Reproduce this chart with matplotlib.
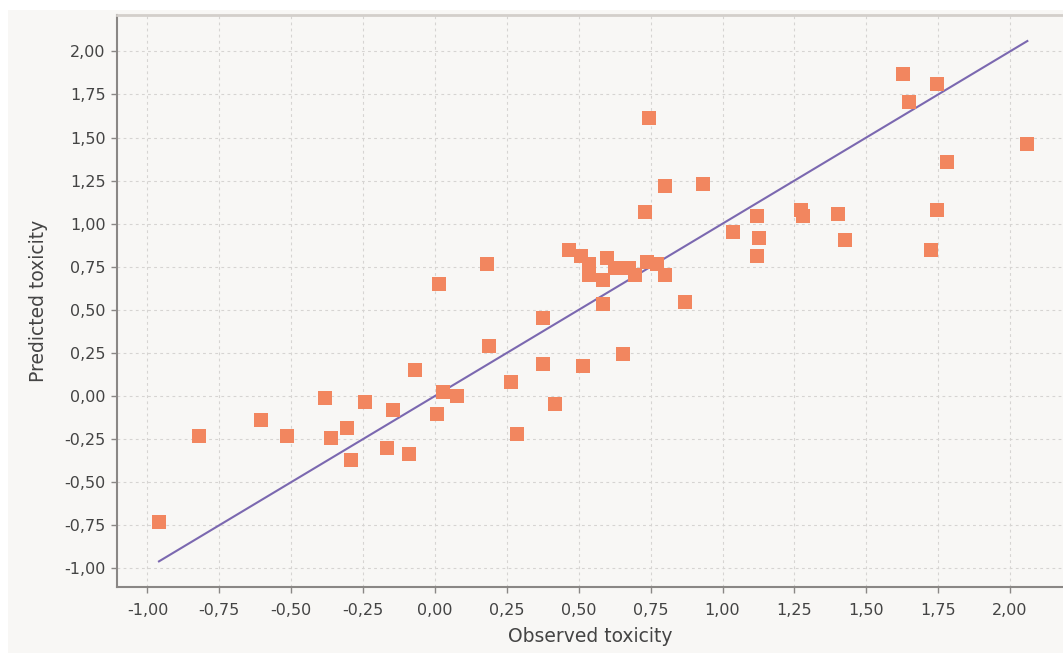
import matplotlib
matplotlib.use("Agg")
import matplotlib.pyplot as plt
from matplotlib.ticker import FuncFormatter, MultipleLocator
from matplotlib.patches import Rectangle

# observed vs predicted toxicity
observed = [
    -0.96, -0.82, -0.605, -0.515, -0.383, -0.362, -0.306, -0.292, -0.243,
    -0.167, -0.146, -0.09, -0.07, 0.007, 0.014, 0.028, 0.077, 0.18, 0.188,
    0.264, 0.285, 0.376, 0.376, 0.417, 0.466, 0.515, 0.508, 0.536, 0.536,
    0.584, 0.584, 0.598, 0.626, 0.654, 0.675, 0.696, 0.737, 0.73, 0.744,
    0.772, 0.80, 0.80, 0.87, 0.932, 1.037, 1.12, 1.12, 1.127, 1.273, 1.28,
    1.40, 1.426, 1.628, 1.649, 1.725, 1.746, 1.746, 1.78, 2.06,
]
predicted = [
    -0.73, -0.23, -0.14, -0.23, -0.01, -0.244, -0.186, -0.371, -0.035,
    -0.30, -0.081, -0.337, 0.151, -0.104, 0.65, 0.023, 0.0, 0.766, 0.29,
    0.081, -0.22, 0.186, 0.453, -0.046, 0.847, 0.174, 0.81, 0.766, 0.70,
    0.534, 0.673, 0.80, 0.743, 0.244, 0.743, 0.70, 0.778, 1.068, 1.613,
    0.766, 0.70, 1.219, 0.546, 1.23, 0.952, 1.045, 0.81, 0.917, 1.08, 1.045,
    1.056, 0.905, 1.869, 1.706, 0.847, 1.81, 1.08, 1.358, 1.463,
]

x_label = "Observed toxicity"
y_label = "Predicted toxicity"

bg = "#f8f7f5"
point_color = "#f2865f"
line_color = "#7b68b0"

fig = plt.figure(figsize=(10.63, 6.53), dpi=100, facecolor="white")
# light grey panel behind the chart (white strip at top and left)
fig.patches.append(Rectangle((8 / 1063, 0), 1, 1 - 10 / 653,
                             transform=fig.transFigure, facecolor=bg,
                             edgecolor="none", zorder=-1))

ax = fig.add_axes([116.7 / 1063, 1 - 586.7 / 653,
                   1 - 116.7 / 1063, (586.7 - 15) / 653])
ax.set_facecolor(bg)

ax.set_xlim(-1.107, 2.184)
ax.set_ylim(-1.107, 2.211)

ax.xaxis.set_major_locator(MultipleLocator(0.25))
ax.yaxis.set_major_locator(MultipleLocator(0.25))
fmt = FuncFormatter(lambda v, p: ("%.2f" % v).replace(".", ","))
ax.xaxis.set_major_formatter(fmt)
ax.yaxis.set_major_formatter(fmt)

ax.grid(True, color="#d6d4d2", linestyle=(0, (2.5, 3)), linewidth=0.8)
ax.set_axisbelow(True)

# identity line over the observed range
lo, hi = min(observed), max(observed)
ax.plot([lo, hi], [lo, hi], color=line_color, linewidth=1.5, zorder=2)

ax.scatter(observed, predicted, marker="s", s=100, color=point_color,
           edgecolors="none", zorder=3)

for side in ["left", "bottom"]:
    ax.spines[side].set_color("#8a8785")
    ax.spines[side].set_linewidth(1.5)
ax.spines["top"].set_color("#d3cfcb")
ax.spines["top"].set_linewidth(2)
ax.spines["right"].set_visible(False)

ax.tick_params(axis="both", colors="#8a8785", labelcolor="#444444",
               length=4, width=1, labelsize=11.5)
ax.tick_params(axis="x", pad=8)
ax.tick_params(axis="y", pad=4)

ax.set_xlabel(x_label, fontsize=13.5, color="#444444", labelpad=6)
ax.set_ylabel(y_label, fontsize=13.5, color="#444444", labelpad=12)

fig.savefig("out.png", dpi=100, facecolor=fig.get_facecolor())
